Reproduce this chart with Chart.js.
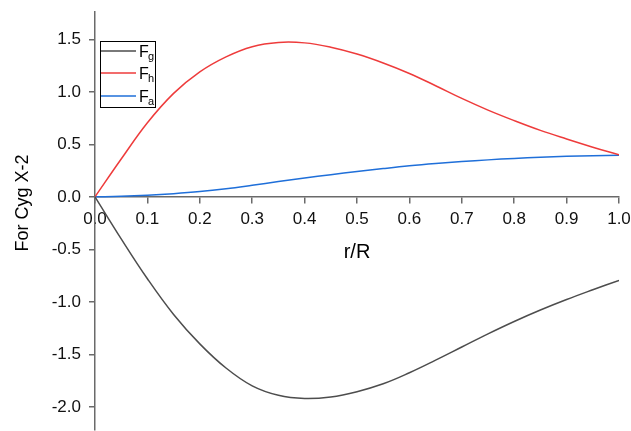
<!DOCTYPE html>
<html>
<head>
<meta charset="utf-8">
<script src="https://cdn.jsdelivr.net/npm/chart.js@4.4.0/dist/chart.umd.min.js"></script>
<style>
  html, body { margin: 0; padding: 0; background: #fff; }
  #wrap { width: 631px; height: 431px; position: relative; }
</style>
</head>
<body>
<div id="wrap"><canvas id="forceChart"></canvas></div>
<script>
  // r/R sample positions
  const radius = [0, 0.05, 0.1, 0.15, 0.2, 0.25, 0.3, 0.35, 0.4, 0.45, 0.5,
    0.55, 0.6, 0.65, 0.7, 0.75, 0.8, 0.85, 0.9, 0.95, 1.0];

  const fg = [0, -0.40, -0.78, -1.12, -1.40, -1.63, -1.80, -1.89, -1.92, -1.905, -1.855,
    -1.78, -1.675, -1.555, -1.43, -1.305, -1.187, -1.078, -0.978, -0.885, -0.795];
  const fh = [0, 0.36, 0.705, 0.985, 1.19, 1.333, 1.43, 1.47, 1.466, 1.425, 1.36,
    1.275, 1.175, 1.058, 0.937, 0.826, 0.726, 0.633, 0.551, 0.473, 0.40];
  const fa = [0, 0.005, 0.015, 0.03, 0.05, 0.077, 0.11, 0.145, 0.179, 0.211, 0.241,
    0.269, 0.295, 0.317, 0.336, 0.352, 0.366, 0.377, 0.386, 0.392, 0.396];

  const xTicks = [0, 0.1, 0.2, 0.3, 0.4, 0.5, 0.6, 0.7, 0.8, 0.9, 1.0];
  const yTicks = [-2.0, -1.5, -1.0, -0.5, 0.0, 0.5, 1.0, 1.5];

  const seriesNames = ["g", "h", "a"];
  const seriesColors = ["#4d4d4d", "#ee3b3b", "#1f6fd9"];

  const FONT = "'Liberation Sans', Arial, sans-serif";
  const AXIS = "#6a6a6a";

  function toPoints(ys) {
    return radius.map(function (r, i) { return { x: r, y: ys[i] }; });
  }

  // legend with subscripts + axis titles
  const decorations = {
    id: "decorations",
    afterDraw(chart) {
      const ctx = chart.ctx;
      ctx.save();
      ctx.fillStyle = "#000";

      // legend box
      ctx.strokeStyle = "#000";
      ctx.lineWidth = 1;
      ctx.strokeRect(100.5, 41.5, 55, 66);
      const rows = [51, 73, 96];
      rows.forEach(function (y, i) {
        ctx.strokeStyle = seriesColors[i];
        ctx.lineWidth = 1.5;
        ctx.beginPath();
        ctx.moveTo(101, y);
        ctx.lineTo(136, y);
        ctx.stroke();
        ctx.fillStyle = "#000";
        ctx.textBaseline = "alphabetic";
        ctx.textAlign = "left";
        ctx.font = "16px " + FONT;
        ctx.fillText("F", 139, y + 6);
        ctx.font = "11px " + FONT;
        ctx.fillText(seriesNames[i], 148, y + 9);
      });

      // axis titles
      const area = chart.chartArea;
      ctx.fillStyle = "#000";
      ctx.font = "20px " + FONT;
      ctx.textAlign = "center";
      ctx.textBaseline = "alphabetic";
      ctx.fillText("r/R", (area.left + area.right) / 2, 258);

      ctx.font = "18px " + FONT;
      ctx.translate(28, 203);
      ctx.rotate(-Math.PI / 2);
      ctx.fillText("For Cyg X-2", 0, 0);
      ctx.restore();
    }
  };

  const lineStyle = {
    showLine: true,
    pointRadius: 0,
    borderWidth: 1.5,
    tension: 0.4,
    fill: false
  };

  new Chart(document.getElementById("forceChart"), {
    type: "scatter",
    data: {
      datasets: [
        Object.assign({ label: "Fg", data: toPoints(fg), borderColor: seriesColors[0] }, lineStyle),
        Object.assign({ label: "Fh", data: toPoints(fh), borderColor: seriesColors[1] }, lineStyle),
        Object.assign({ label: "Fa", data: toPoints(fa), borderColor: seriesColors[2] }, lineStyle)
      ]
    },
    options: {
      responsive: true,
      maintainAspectRatio: false,
      animation: false,
      layout: { padding: { top: 12, right: 12, bottom: 1, left: 0 } },
      plugins: {
        legend: { display: false },
        tooltip: { enabled: false }
      },
      scales: {
        x: {
          type: "linear",
          position: { y: 0 },
          min: 0,
          max: 1,
          afterBuildTicks: function (scale) {
            scale.ticks = xTicks.map(function (v) { return { value: v }; });
          },
          afterFit: function (scale) {
            scale.paddingLeft = 0;
            scale.paddingRight = 0;
          },
          grid: {
            drawOnChartArea: false,
            drawTicks: true,
            tickLength: 6,
            color: AXIS,
            lineWidth: 1.5
          },
          border: { display: true, color: AXIS, width: 1.5 },
          ticks: {
            color: "#111",
            font: { family: FONT, size: 17 },
            padding: 6,
            maxRotation: 0,
            autoSkip: false,
            callback: function (v) { return v.toFixed(1); }
          }
        },
        y: {
          type: "linear",
          min: -2.22,
          max: 1.76,
          afterBuildTicks: function (scale) {
            scale.ticks = yTicks.map(function (v) { return { value: v }; });
          },
          afterFit: function (scale) {
            scale.width = 95;
            scale.paddingTop = 0;
            scale.paddingBottom = 0;
          },
          grid: {
            drawOnChartArea: false,
            drawTicks: true,
            tickLength: 6,
            color: AXIS,
            lineWidth: 1.5
          },
          border: { display: true, color: AXIS, width: 1.5 },
          ticks: {
            color: "#111",
            font: { family: FONT, size: 17 },
            padding: 8,
            autoSkip: false,
            callback: function (v) { return v.toFixed(1); }
          }
        }
      }
    },
    plugins: [decorations]
  });
</script>
</body>
</html>
